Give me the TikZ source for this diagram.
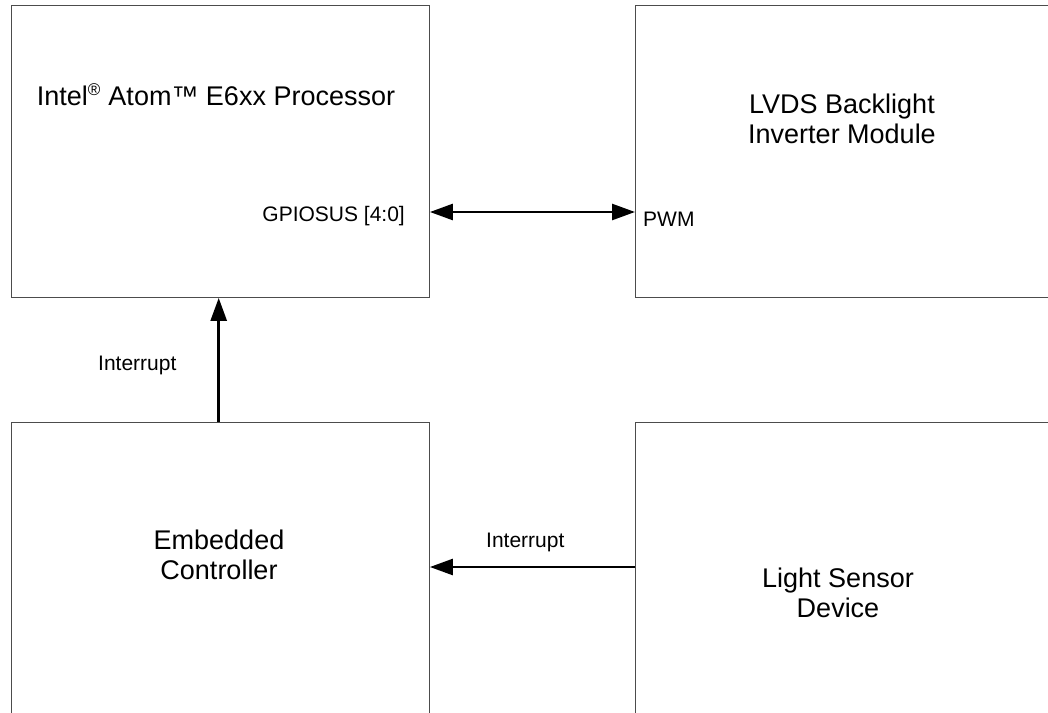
\documentclass[tikz,border=0pt]{standalone}
\usepackage{fontspec}
\setmainfont{Liberation Sans}
\usetikzlibrary{arrows.meta}
\begin{document}
\begin{tikzpicture}[x=1pt,y=-1pt,
  blockbox/.style={draw=black!70,line width=1.4pt,rectangle,inner sep=0pt,anchor=north west},
  bigtxt/.style={font=\fontsize{27}{30}\selectfont,align=center,anchor=base,inner sep=0pt},
  smalltxt/.style={font=\fontsize{21}{24}\selectfont,inner sep=0pt},
  arr/.style={line width=2.6pt,-{Triangle[length=23pt,width=16pt]}},
  darr/.style={line width=2.6pt,{Triangle[length=23pt,width=16pt]}-{Triangle[length=23pt,width=16pt]}}]
\useasboundingbox (0,0) rectangle (1048,712);
\clip (0,0) rectangle (1048,712);
% blocks
\node[blockbox,minimum width=418pt,minimum height=292pt] (cpu) at (10.5,4.5) {};
\node[blockbox,minimum width=430pt,minimum height=292pt] (lvds) at (635,4.5) {};
\node[blockbox,minimum width=418pt,minimum height=310pt] (ec) at (10.5,421.5) {};
\node[blockbox,minimum width=430pt,minimum height=310pt] (ls) at (635,421.5) {};
% block texts
\node[bigtxt] (cpuT) at (216,105) {Intel\textsuperscript{\fontsize{17}{17}\selectfont ®} Atom™ E6xx Processor};
\node[bigtxt] (lvdsT) at (842,113) {LVDS Backlight};
\node[bigtxt] (lvdsT2) at (842,143) {Inverter Module};
\node[bigtxt] (ecT) at (219,549) {Embedded};
\node[bigtxt] (ecT2) at (219,579) {Controller};
\node[bigtxt] (lsT) at (838,587) {Light Sensor};
\node[bigtxt] (lsT2) at (838,617) {Device};
% port and connector labels
\node[smalltxt,anchor=base east] (gpio) at (405,221) {GPIOSUS [4:0]};
\node[smalltxt,anchor=base west] (pwm) at (643,226) {PWM};
\node[smalltxt,anchor=base west] (int1) at (98,370) {Interrupt};
\node[smalltxt,anchor=base west] (int2) at (486,547) {Interrupt};
% connectors
\draw[darr] ([yshift=-207.5pt]cpu.north east) -- ([yshift=-207.5pt]lvds.north west);
\draw[arr] ([xshift=-1.5pt]ec.north) -- ([xshift=-1.5pt]cpu.south);
\draw[arr] ([yshift=-145.5pt]ls.north west) -- ([yshift=-145.5pt]ec.north east);
\end{tikzpicture}
\end{document}
